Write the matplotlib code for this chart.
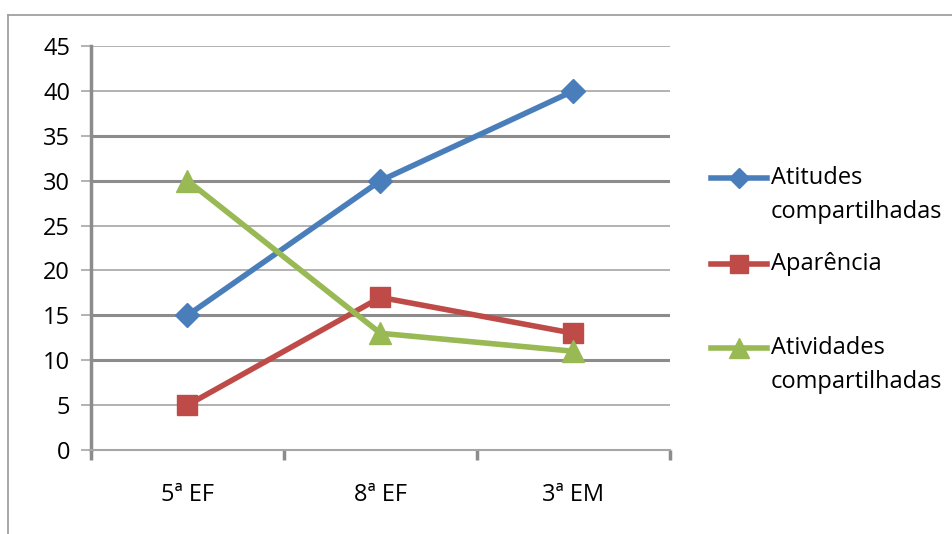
# ----------------------------------------
# Line chart: three series across school grades
# ----------------------------------------
import matplotlib
matplotlib.use("Agg")
import matplotlib.pyplot as plt
from matplotlib.lines import Line2D

# ----------------------------------------
# Data
# ----------------------------------------
categories = ["5ª EF", "8ª EF", "3ª EM"]
atitudes = [15, 30, 40]
aparencia = [5, 17, 13]
atividades = [30, 13, 11]

series_labels = [["Atitudes", "compartilhadas"], ["Aparência"],
                 ["Atividades", "compartilhadas"]]
y_ticks = list(range(0, 50, 5))

plt.rcParams["font.family"] = ["Open Sans", "DejaVu Sans"]
FS = 17

blue = "#4A7EBB"
red = "#BE4B48"
green = "#98B954"
grid_light = "#a6a6a6"
grid_dark = "#8c8c8c"

fig = plt.figure(figsize=(9.53, 5.34), dpi=100)
ax = fig.add_axes([91 / 953, 1 - 450 / 534, (670 - 91) / 953, (450 - 46) / 534])

x = range(len(categories))
ax.plot(x, atitudes, color=blue, lw=4, marker="D", ms=12.5, zorder=5)
ax.plot(x, aparencia, color=red, lw=4, marker="s", ms=14.5, zorder=5)
ax.plot(x, atividades, color=green, lw=4, marker="^", ms=16, zorder=5)

# ----------------------------------------
# Axes styling
# ----------------------------------------
ax.set_xlim(-0.5, len(categories) - 0.5)
ax.set_ylim(0, 45)
ax.set_yticks(y_ticks)
ax.set_xticks(list(x))
ax.set_xticklabels(categories)
ax.set_xticks([i - 0.5 for i in range(len(categories) + 1)], minor=True)

for v in y_ticks:
    if v == 0:
        continue
    thick = v in (10, 15, 30, 35)
    ax.axhline(v, color=grid_dark if thick else grid_light,
               lw=2.2 if thick else 1.2, zorder=1)

for side in ["top", "right"]:
    ax.spines[side].set_visible(False)
ax.spines["left"].set_color(grid_dark)
ax.spines["left"].set_linewidth(2.5)
ax.spines["bottom"].set_color(grid_light)
ax.spines["bottom"].set_linewidth(1.5)

ax.tick_params(axis="y", length=7, width=1.2, color=grid_light,
               labelsize=FS, pad=8)
ax.tick_params(axis="x", which="major", length=0, labelsize=FS, pad=24)
ax.tick_params(axis="x", which="minor", length=7, width=2.5, color=grid_dark)

# ----------------------------------------
# Legend (drawn by hand so the key sits on the first line)
# ----------------------------------------
legend_items = [
    (blue, "D", 10.5, 178),
    (red, "s", 12.5, 264),
    (green, "^", 14, 348),
]
for (color, marker, ms, ypix), lines in zip(legend_items, series_labels):
    yf = 1 - ypix / 534
    fig.add_artist(Line2D([711 / 953, 767 / 953], [yf, yf], color=color, lw=4))
    fig.add_artist(Line2D([739 / 953], [yf], color=color, marker=marker, ms=ms))
    for i, line in enumerate(lines):
        fig.text(771 / 953, 1 - (ypix + 34 * i) / 534, line, fontsize=FS,
                 ha="left", va="center")

# frame around the chart (top and left edges visible)
fig.add_artist(Line2D([8 / 953, 952 / 953], [1 - 15 / 534, 1 - 15 / 534],
                      color="#a0a0a0", lw=1.3))
fig.add_artist(Line2D([8 / 953, 8 / 953], [0, 1 - 15 / 534],
                      color="#a0a0a0", lw=1.3))

fig.savefig("out.png", dpi=100)
